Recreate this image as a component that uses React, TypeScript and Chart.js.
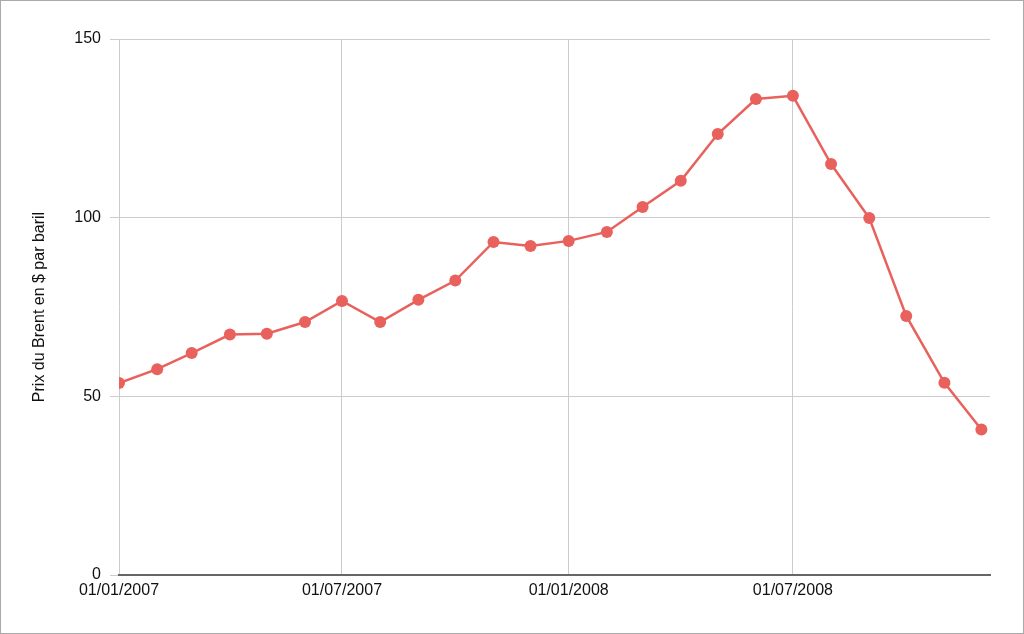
import React, { useEffect, useRef } from 'react';
import { Chart, registerables } from 'chart.js';

Chart.register(...registerables);

// monthly Brent price, first day of each month
const dates = [
  '2007-01-01', '2007-02-01', '2007-03-01', '2007-04-01', '2007-05-01', '2007-06-01',
  '2007-07-01', '2007-08-01', '2007-09-01', '2007-10-01', '2007-11-01', '2007-12-01',
  '2008-01-01', '2008-02-01', '2008-03-01', '2008-04-01', '2008-05-01', '2008-06-01',
  '2008-07-01', '2008-08-01', '2008-09-01', '2008-10-01', '2008-11-01', '2008-12-01',
];
const prices = [
  53.7, 57.6, 62.1, 67.3, 67.5, 70.8,
  76.7, 70.8, 77.0, 82.4, 93.2, 92.1,
  93.5, 96.0, 103.0, 110.3, 123.4, 133.2,
  134.1, 115.0, 99.9, 72.5, 53.8, 40.7,
];
const tickDates = ['2007-01-01', '2007-07-01', '2008-01-01', '2008-07-01'];
const yTicks = [0, 50, 100, 150];

const DAY = 86400000;
const start = Date.parse(dates[0]);
const toDays = (d: string) => (Date.parse(d) - start) / DAY;
const fmt = (d: string) => {
  const [y, m, dd] = d.split('-');
  return `${dd}/${m}/${y}`;
};

const FONT = "'Liberation Sans', Arial, sans-serif";

const App: React.FC = () => {
  const chartRef = useRef<HTMLCanvasElement>(null);
  const chartInstance = useRef<Chart | null>(null);

  useEffect(() => {
    document.body.style.margin = '0';
    if (!chartRef.current) return;
    const ctx = chartRef.current.getContext('2d');
    if (!ctx) return;

    chartInstance.current = new Chart(ctx, {
      type: 'line',
      data: {
        datasets: [
          {
            label: 'Brent',
            data: dates.map((d, i) => ({ x: toDays(d), y: prices[i] })),
            borderColor: '#e8615c',
            backgroundColor: '#e8615c',
            borderWidth: 2.5,
            pointRadius: 6,
            pointBorderWidth: 0,
            tension: 0,
          },
        ],
      },
      options: {
        animation: false,
        responsive: true,
        maintainAspectRatio: false,
        layout: { padding: { top: 38, right: 33, left: 0, bottom: 0 } },
        plugins: {
          legend: { display: false },
          tooltip: { enabled: false },
        },
        scales: {
          x: {
            type: 'linear',
            min: 0,
            max: 707,
            afterBuildTicks: (scale: any) => {
              scale.ticks = tickDates.map((d) => ({ value: toDays(d) }));
            },
            afterFit: (scale: any) => {
              scale.height = 58;
            },
            ticks: {
              autoSkip: false,
              maxRotation: 0,
              padding: 6,
              color: '#111',
              font: { family: FONT, size: 16 },
              callback: (v: any) => {
                const d = tickDates.find((t) => toDays(t) === v);
                return d ? fmt(d) : '';
              },
            },
            grid: { color: '#cccccc', lineWidth: 1, drawTicks: false },
            border: { color: '#666666', width: 2 },
          },
          y: {
            min: 0,
            max: 150,
            afterBuildTicks: (scale: any) => {
              scale.ticks = yTicks.map((v) => ({ value: v }));
            },
            afterFit: (scale: any) => {
              scale.width = 118;
            },
            ticks: {
              padding: 9,
              color: '#111',
              font: { family: FONT, size: 16 },
            },
            grid: { color: '#cccccc', lineWidth: 1, tickLength: 9 },
            border: { display: false },
            title: {
              display: true,
              text: 'Prix du Brent en $ par baril',
              color: '#111',
              font: { family: FONT, size: 16 },
              padding: { top: 29, bottom: 0 },
            },
          },
        },
      },
    });

    return () => {
      if (chartInstance.current) {
        chartInstance.current.destroy();
      }
    };
  }, []);

  return (
    <div
      style={{
        width: 1024,
        height: 634,
        boxSizing: 'border-box',
        border: '1px solid #aaaaaa',
        background: '#fff',
      }}
    >
      <div style={{ position: 'relative', width: 1022, height: 632 }}>
        <canvas ref={chartRef} />
      </div>
    </div>
  );
};

export default App;
